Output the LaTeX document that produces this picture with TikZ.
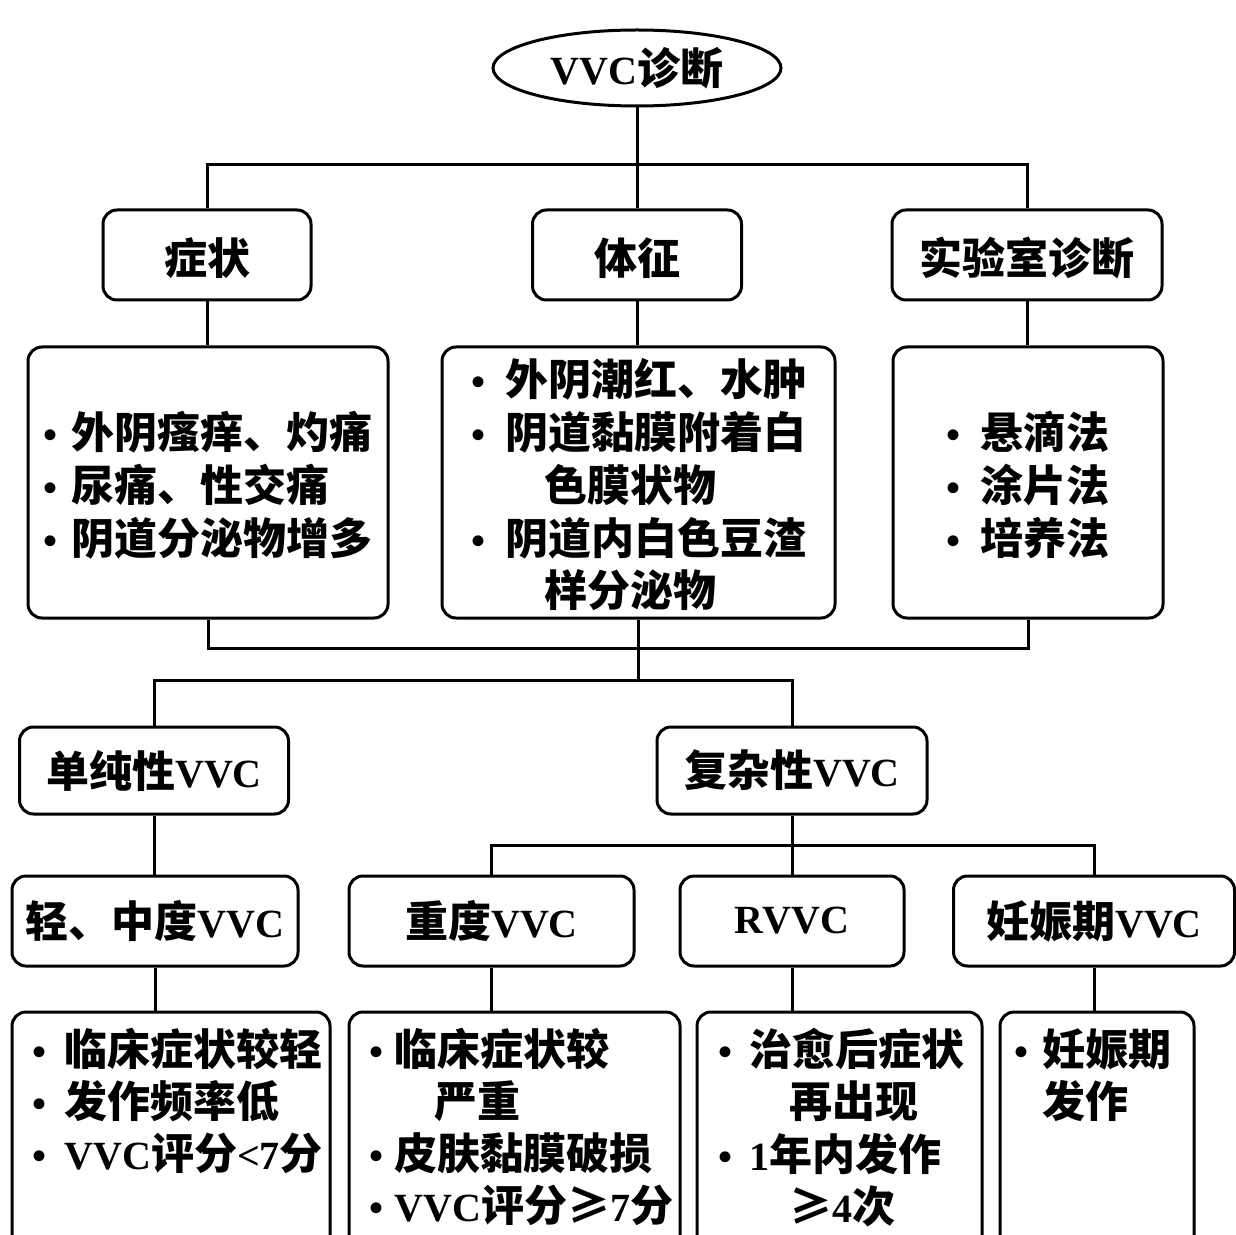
\documentclass[tikz,border=0pt]{standalone}
\usepackage{fontspec}
\setmainfont{Liberation Serif}[Scale=0.93]
\newfontfamily\cjk{Noto Sans CJK SC}
\usetikzlibrary{shapes.geometric}
\newcommand\zh[1]{{\cjk #1}}
\newcommand\itm[1][14pt]{\makebox[#1][l]{•}}
\newcommand\low[2][4pt]{\raisebox{-#1}[\height][\depth]{#2}}
\begin{document}
\begin{tikzpicture}[x=0.5pt,y=-0.5pt,
  every node/.style={font=\fontsize{21.5}{26}\selectfont\bfseries},
  box/.style={draw, line width=1.5pt, rounded corners=7pt, inner sep=0pt, align=center},
  oval/.style={draw, ellipse, line width=1.5pt, inner sep=0pt},
  link/.style={line width=1.5pt},
  txt/.style={inner sep=0pt, align=left}]
\useasboundingbox (0,0) rectangle (1236,1235);
\clip (0,0) rectangle (1236,1235);
\fill[white] (0,0) rectangle (1236,1235);

% level 0
\node[oval, minimum width=144pt, minimum height=38pt] (top) at (637,68) {VVC\zh{诊断}};

% level 1
\node[box, minimum width=104pt, minimum height=45pt] (s1) at (207,255) {\low[1.5pt]{\zh{症状}}};
\node[box, minimum width=104.5pt, minimum height=45pt] (s2) at (637,255) {\low[1.5pt]{\zh{体征}}};
\node[box, minimum width=135pt, minimum height=45pt] (s3) at (1027,255) {\low[1.5pt]{\zh{实验室诊断}}};

% level 2
\node[box, minimum width=180pt, minimum height=135.5pt] (b1) at (208,482.5) {\low{\begin{tabular}{@{}l@{}}
\itm\zh{外阴瘙痒、灼痛}\\
\itm\zh{尿痛、性交痛}\\
\itm\zh{阴道分泌物增多}\end{tabular}}};
\node[box, minimum width=196.5pt, minimum height=135.5pt] (b2) at (638.5,482.5) {\low{\begin{tabular}{@{}l@{}}
\itm[17pt]\zh{外阴潮红、水肿}\\
\itm[17pt]\zh{阴道黏膜附着白}\\
\hspace*{17pt}\hspace*{1em}\zh{色膜状物}\\
\itm[17pt]\zh{阴道内白色豆渣}\\
\hspace*{17pt}\hspace*{1em}\zh{样分泌物}\end{tabular}}};
\node[box, minimum width=135pt, minimum height=135.5pt] (b3) at (1028,482.5) {\low{\begin{tabular}{@{}l@{}}
\itm[17pt]\zh{悬滴法}\\
\itm[17pt]\zh{涂片法}\\
\itm[17pt]\zh{培养法}\end{tabular}}};

% level 3
\node[box, minimum width=134.5pt, minimum height=43.5pt] (c1) at (154,770.5) {\zh{单纯性}VVC};
\node[box, minimum width=135pt, minimum height=43.5pt] (c2) at (792,770.5) {\zh{复杂性}VVC};

% level 4
\node[box, minimum width=143pt, minimum height=45pt] (d1) at (155,921) {\zh{轻、中度}VVC};
\node[box, minimum width=142.5pt, minimum height=45pt] (d2) at (491.5,921) {\zh{重度}VVC};
\node[box, minimum width=112pt, minimum height=45pt] (d3) at (792,921) {RVVC};
\node[box, minimum width=140.5pt, minimum height=45pt] (d4) at (1094,921) {\zh{妊娠期}VVC};

% level 5 (cut off at the bottom)
\node[box, minimum width=159pt, minimum height=125pt] (e1) at (171,1137) {};
\node[box, minimum width=165.5pt, minimum height=125pt] (e2) at (514.5,1137) {};
\node[box, minimum width=142.5pt, minimum height=125pt] (e3) at (839.5,1137) {};
\node[box, minimum width=97pt, minimum height=125pt] (e4) at (1097,1137) {};

\node[txt, anchor=base west] (t1) at (32,1065) {\begin{tabular}[t]{@{}l@{}}
\itm[16pt]\zh{临床症状较轻}\\
\itm[16pt]\zh{发作频率低}\\
\itm[16pt]VVC\zh{评分}<7\zh{分}\end{tabular}};
\node[txt, anchor=base west] (t2) at (369,1065) {\begin{tabular}[t]{@{}l@{}}
\itm[12.5pt]\zh{临床症状较}\\
\hspace*{12.5pt}\hspace*{1em}\zh{严重}\\
\itm[12.5pt]\zh{皮肤黏膜破损}\\
\itm[12.5pt]VVC\zh{评分≥}7\zh{分}\end{tabular}};
\node[txt, anchor=base west] (t3) at (718,1065) {\begin{tabular}[t]{@{}l@{}}
\itm[15.5pt]\zh{治愈后症状}\\
\hspace*{15.5pt}\hspace*{1em}\zh{再出现}\\
\itm[15.5pt]1\zh{年内发作}\\
\hspace*{15.5pt}\hspace*{1em}\zh{≥}4\zh{次}\end{tabular}};
\node[txt, anchor=base west] (t4) at (1014,1065) {\begin{tabular}[t]{@{}l@{}}
\itm[14pt]\zh{妊娠期}\\
\hspace*{14pt}\zh{发作}\end{tabular}};

% connectors
\coordinate (j1) at (637,165);
\draw[link] (top.south) -- (j1);
\draw[link] (s1.north) |- (j1) -| (s3.north);
\draw[link] (j1) -- (s2.north);

\draw[link] (s1.south) -- (s1.south |- b1.north);
\draw[link] (s2.south) -- (s2.south |- b2.north);
\draw[link] (s3.south) -- (s3.south |- b3.north);

\coordinate (j2) at (638.5,648);
\coordinate (j3) at (638.5,680);
\draw[link] (b1.south) |- (j2) -| (b3.south);
\draw[link] (b2.south) -- (j2) -- (j3);
\draw[link] (c1.north) |- (j3) -| (c2.north);

\draw[link] (c1.south) -- (c1.south |- d1.north);
\coordinate (j4) at (792,845);
\draw[link] (c2.south) -- (j4);
\draw[link] (d2.north) |- (j4) -| (d4.north);
\draw[link] (j4) -- (d3.north);

\draw[link] (d1.south) -- (d1.south |- e1.north);
\draw[link] (d2.south) -- (d2.south |- e2.north);
\draw[link] (d3.south) -- (d3.south |- e3.north);
\draw[link] (d4.south) -- (d4.south |- e4.north);
\end{tikzpicture}
\end{document}
